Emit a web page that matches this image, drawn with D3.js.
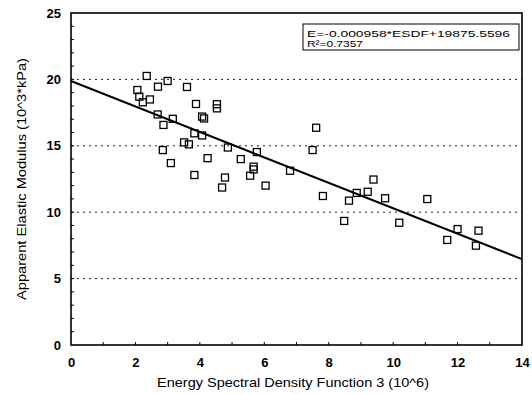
<!DOCTYPE html>
<html>
<head>
<meta charset="utf-8">
<script src="https://cdn.jsdelivr.net/npm/d3@7"></script>
<style>
  html, body { margin: 0; padding: 0; background: #fff; }
  svg { display: block; }
  text { font-family: "Liberation Sans", Arial, sans-serif; fill: #000; }
</style>
</head>
<body>
<svg id="chart" width="532" height="394"></svg>
<script>
// ---- data ----
const esdf = [2.35, 2.06, 2.12, 2.23, 2.45, 2.70, 3.00, 3.60, 3.88, 4.53,
              4.53, 4.07, 4.13, 2.69, 3.16, 2.87, 3.83, 4.07, 3.51, 3.66,
              4.87, 5.77, 2.85, 4.24, 5.27, 3.10, 5.67, 5.67, 5.56, 3.83,
              4.78, 4.69, 6.04, 6.80, 7.61, 7.50, 7.82, 9.39, 8.87, 9.21,
              8.63, 8.48, 9.75, 11.06, 10.19, 12.00, 12.65, 11.68, 12.57];
const modulus = [20.26, 19.20, 18.70, 18.28, 18.49, 19.45, 19.88, 19.43, 18.15, 18.13,
                 17.82, 17.20, 17.06, 17.36, 17.03, 16.57, 15.94, 15.78, 15.26, 15.11,
                 14.87, 14.53, 14.68, 14.07, 14.00, 13.70, 13.43, 13.22, 12.75, 12.80,
                 12.61, 11.86, 12.00, 13.12, 16.36, 14.68, 11.22, 12.46, 11.45, 11.54,
                 10.87, 9.34, 11.05, 10.99, 9.21, 8.73, 8.61, 7.91, 7.48];
// regression E = slope*ESDF + intercept (kPa, raw ESDF)
const regSlope = [-0.000958];
const regIntercept = [19875.5596];
const xTicks = [0, 2, 4, 6, 8, 10, 12, 14];
const yTicks = [0, 5, 10, 15, 20, 25];
const gridLines = [5, 10, 15, 20];
const legendLines = ["E=-0.000958*ESDF+19875.5596", "R\u00B2=0.7357"];
const xTitle = "Energy Spectral Density Function 3 (10^6)";
const yTitle = "Apparent Elastic Modulus (10^3*kPa)";

// ---- layout ----
const svg = d3.select("#chart");
const pL = 71, pR = 522, pT = 13, pB = 345;
const x = d3.scaleLinear().domain([0, 14]).range([pL, pR]);
const y = d3.scaleLinear().domain([0, 25]).range([pB, pT]);

// gridlines
svg.append("g").selectAll("line").data(gridLines).join("line")
  .attr("x1", pL).attr("x2", pR)
  .attr("y1", d => y(d)).attr("y2", d => y(d))
  .attr("stroke", "#222").attr("stroke-width", 1)
  .attr("stroke-dasharray", "2,4");

// minor inner ticks
svg.append("g").selectAll("line").data(d3.range(1, 25)).join("line")
  .attr("x1", pL).attr("x2", pL + 3)
  .attr("y1", d => y(d)).attr("y2", d => y(d))
  .attr("stroke", "#000").attr("stroke-width", 1);
svg.append("g").selectAll("line").data(d3.range(1, 14)).join("line")
  .attr("x1", d => x(d)).attr("x2", d => x(d))
  .attr("y1", pB).attr("y2", pB - 3)
  .attr("stroke", "#000").attr("stroke-width", 1);

// axes (labels only, via d3 axes)
const xAxis = svg.append("g").attr("transform", `translate(0,${pB})`)
  .call(d3.axisBottom(x).tickValues(xTicks).tickSize(0).tickPadding(13).tickFormat(d3.format("d")));
const yAxis = svg.append("g").attr("transform", `translate(${pL},0)`)
  .call(d3.axisLeft(y).tickValues(yTicks).tickSize(0).tickPadding(10).tickFormat(d3.format("d")));
[xAxis, yAxis].forEach(a => {
  a.select(".domain").remove();
  a.selectAll("text").attr("font-size", 13).attr("font-weight", "bold")
    .attr("font-family", "'Liberation Sans', Arial, sans-serif").attr("fill", "#000");
});

// frame
svg.append("rect")
  .attr("x", pL).attr("y", pT).attr("width", pR - pL).attr("height", pB - pT)
  .attr("fill", "none").attr("stroke", "#000").attr("stroke-width", 1.6);

// regression line
const fit = xv => (regSlope[0] * xv * 1e6 + regIntercept[0]) / 1000;
svg.append("line")
  .attr("x1", x(0)).attr("y1", y(fit(0)))
  .attr("x2", x(14)).attr("y2", y(fit(14)))
  .attr("stroke", "#000").attr("stroke-width", 2);

// points (open squares)
const s = 7;
svg.append("g").selectAll("rect").data(esdf.map((d, i) => [d, modulus[i]])).join("rect")
  .attr("x", d => x(d[0]) - s / 2).attr("y", d => y(d[1]) - s / 2)
  .attr("width", s).attr("height", s)
  .attr("fill", "none").attr("stroke", "#000").attr("stroke-width", 1.3);

// legend box
svg.append("rect").attr("x", 303).attr("y", 24).attr("width", 216).attr("height", 26)
  .attr("fill", "#fff").attr("stroke", "#000").attr("stroke-width", 1);
const legLens = [203, 56];
svg.append("g").selectAll("text").data(legendLines).join("text")
  .attr("x", 307).attr("y", (d, i) => 36.5 + i * 10.5)
  .attr("font-size", 9.5)
  .attr("textLength", (d, i) => legLens[i]).attr("lengthAdjust", "spacingAndGlyphs")
  .text(d => d);

// axis titles
svg.append("text").attr("x", (157 + 429) / 2).attr("y", 387)
  .attr("text-anchor", "middle").attr("font-size", 13)
  .attr("textLength", 272).attr("lengthAdjust", "spacingAndGlyphs")
  .text(xTitle);
svg.append("text").attr("transform", "translate(26,179) rotate(-90)")
  .attr("text-anchor", "middle").attr("font-size", 13)
  .attr("textLength", 242).attr("lengthAdjust", "spacingAndGlyphs")
  .text(yTitle);
</script>
</body>
</html>
